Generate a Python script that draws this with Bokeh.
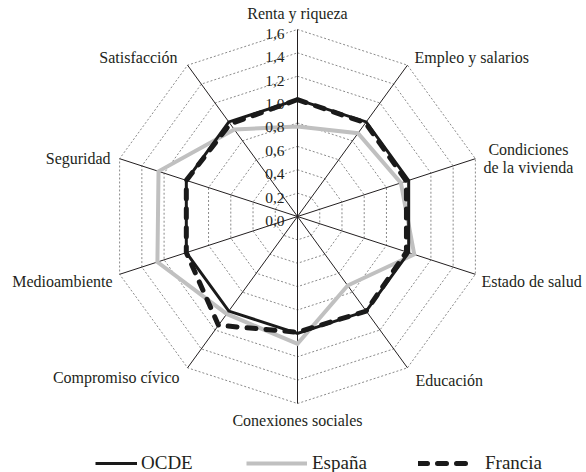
import numpy as np
from bokeh.plotting import figure
from bokeh.models import Range1d, Legend, LegendItem, ColumnDataSource
from bokeh.embed import file_html
from bokeh.resources import INLINE

# ---- data ----
categories = ["Renta y riqueza", "Empleo y salarios", "Condiciones\nde la vivienda",
              "Estado de salud", "Educación", "Conexiones sociales", "Compromiso cívico",
              "Medioambiente", "Seguridad", "Satisfacción"]
ocde = [1.0, 1.0, 1.0, 1.0, 1.0, 1.0, 1.0, 1.0, 1.0, 1.0]
espana = [0.77, 0.88, 0.93, 1.05, 0.73, 1.09, 1.03, 1.26, 1.25, 0.92]
francia = [1.0, 0.99, 0.98, 0.98, 1.0, 0.99, 1.15, 1.0, 1.0, 0.98]
ticks = [0.0, 0.2, 0.4, 0.6, 0.8, 1.0, 1.2, 1.4, 1.6]
tick_labels = ["0,0", "0,2", "0,4", "0,6", "0,8", "1,0", "1,2", "1,4", "1,6"]
series_names = ["OCDE", "España", "Francia"]

# ---- layout ----
S = 116.9            # pixels per unit
W, H = 586, 472
CX, CY = 297, 216    # centre in canvas px (from top-left)
FONT = "Liberation Serif"
TXT = "#231f20"

p = figure(width=W, height=H,
           x_range=Range1d(-CX / S, (W - CX) / S),
           y_range=Range1d(-(H - CY) / S, CY / S),
           output_backend="svg", toolbar_location=None,
           x_axis_type=None, y_axis_type=None, min_border=0)
p.outline_line_color = None
p.background_fill_color = "white"
p.border_fill_color = "white"

n = len(categories)
ang = np.deg2rad(90 - 360.0 / n * np.arange(n))
ca, sa = np.cos(ang), np.sin(ang)
R = max(ticks)

def closed(vals):
    v = np.asarray(vals, dtype=float)
    x = list(v * ca) + [v[0] * ca[0]]
    y = list(v * sa) + [v[0] * sa[0]]
    return x, y

# grid rings
xs, ys = [], []
for t in ticks[1:]:
    x, y = closed([t] * n)
    xs.append(x); ys.append(y)
p.multi_line(xs, ys, line_color="#8a8a8a", line_width=1, line_dash="2 2")

# spokes
p.segment(x0=[0] * n, y0=[0] * n, x1=list(R * ca), y1=list(R * sa),
          line_color=TXT, line_width=1)

# series
x, y = closed(espana)
r_es = p.line(x, y, line_color="#c0c0c0", line_width=4, line_join="miter")
x, y = closed(ocde)
r_oc = p.line(x, y, line_color="#1a1a1a", line_width=3, line_join="miter")
x, y = closed(francia)
r_fr = p.line(x, y, line_color="#1a1a1a", line_width=5, line_dash="9 10",
              line_cap="round", line_join="round")

# tick labels
p.text(x=[-13 / S] * len(ticks), y=[t - 4.5 / S for t in ticks], text=tick_labels,
       text_font=FONT, text_font_size="15.5px", text_color=TXT,
       text_align="right", text_baseline="middle")

# category labels (offsets in px: dx right, dy down)
offs = [(0, -16, "center"), (7, -8, "left"), (53, 0, "center"), (6, 7, "left"),
        (8, 13, "left"), (0, 17, "center"), (-8, 10, "right"), (-7, 7, "right"),
        (-9, 0, "right"), (-10, -8, "right")]
lx, ly, lt, la = [], [], [], []
for i, cat in enumerate(categories):
    dx, dy, al = offs[i]
    lines = cat.split("\n")
    m = len(lines)
    for j, line in enumerate(lines):
        ddy = dy + (j - (m - 1) / 2) * 18
        lx.append(R * ca[i] + dx / S)
        ly.append(R * sa[i] - ddy / S)
        lt.append(line)
        la.append(al)
src = ColumnDataSource(dict(x=lx, y=ly, text=lt, align=la))
p.text(x="x", y="y", text="text", source=src, text_font=FONT, text_font_size="16px",
       text_color=TXT, text_align="align", text_baseline="middle")

# legends
leg_specs = [(r_oc, series_names[0], 95, 42, 4),
             (r_es, series_names[1], 246, 61, 5),
             (r_fr, series_names[2], 418, 57, 10)]
for rend, name, lxp, gw, so in leg_specs:
    leg = Legend(items=[LegendItem(label=name, renderers=[rend])],
                 location=(lxp, -2), glyph_width=gw, glyph_height=20,
                 label_height=20, label_standoff=so, padding=0, margin=0,
                 border_line_color=None, background_fill_alpha=0,
                 label_text_font=FONT, label_text_font_size="19px",
                 label_text_color=TXT)
    p.add_layout(leg)

open("out.html", "w").write(file_html(p, INLINE))
